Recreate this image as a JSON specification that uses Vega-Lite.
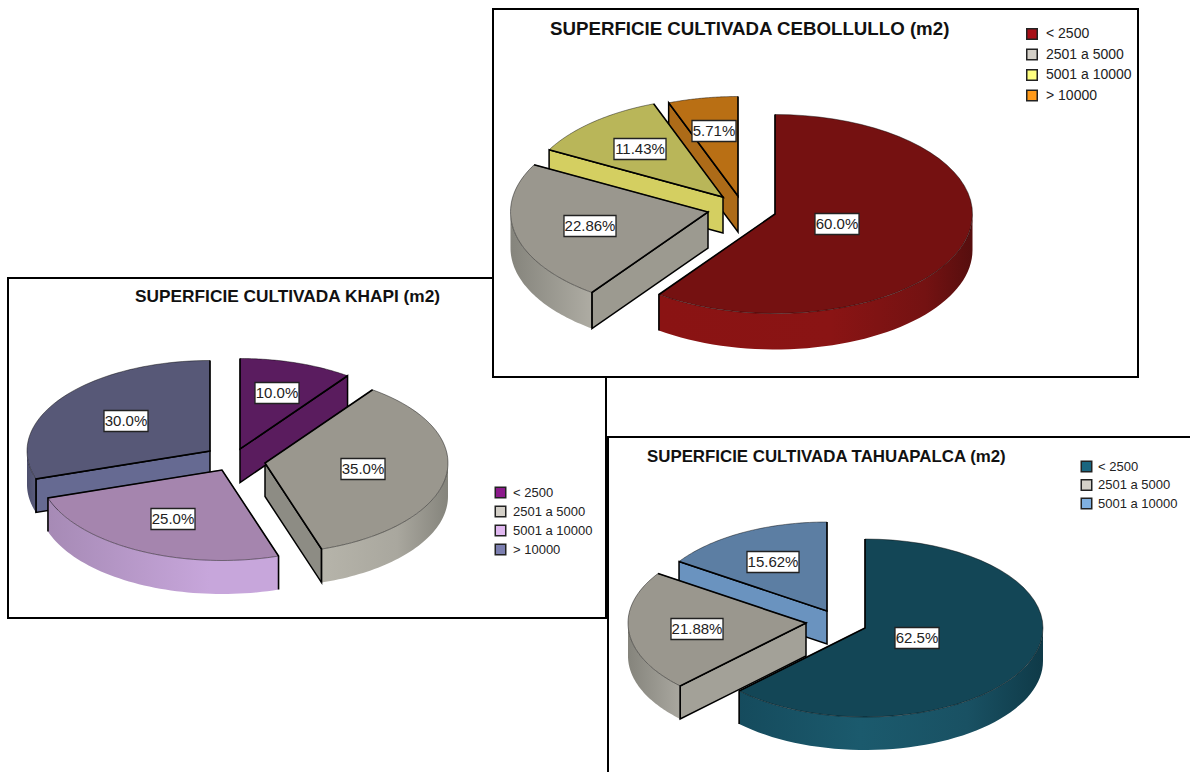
{
"$schema":"https://vega.github.io/schema/vega-lite/v6.json",
"width":1190,"height":772,"padding":0,"autosize":{"type":"none"},
"background":"white",
"config":{"view":{"stroke":null},"font":"Liberation Sans","legend":{"orient":"none","title":null,"padding":0,"symbolType":"square","symbolSize":110,"symbolStrokeColor":"#222","symbolStrokeWidth":1.5,"symbolOpacity":1,"labelFont":"Liberation Sans","labelFontSize":13,"labelColor":"#222","labelOffset":6}},
"datasets":{"slices":[
{"chart":"Khapi","category":"> 10000","pct":30.0,"label":"30.0%"},
{"chart":"Khapi","category":"5001 a 10000","pct":25.0,"label":"25.0%"},
{"chart":"Khapi","category":"2501 a 5000","pct":35.0,"label":"35.0%"},
{"chart":"Khapi","category":"< 2500","pct":10.0,"label":"10.0%"},
{"chart":"Cebollullo","category":"> 10000","pct":5.71,"label":"5.71%"},
{"chart":"Cebollullo","category":"5001 a 10000","pct":11.43,"label":"11.43%"},
{"chart":"Cebollullo","category":"2501 a 5000","pct":22.86,"label":"22.86%"},
{"chart":"Cebollullo","category":"< 2500","pct":60.0,"label":"60.0%"},
{"chart":"Tahuapalca","category":"5001 a 10000","pct":15.62,"label":"15.62%"},
{"chart":"Tahuapalca","category":"2501 a 5000","pct":21.88,"label":"21.88%"},
{"chart":"Tahuapalca","category":"< 2500","pct":62.5,"label":"62.5%"}
]},
"data":{"values":[{}]},
"resolve":{"scale":{"fill":"independent"},"legend":{"fill":"independent"}},
"layer":[
{"mark":{"type":"rect","x":8,"y":278,"x2":606,"y2":618,"fill":"white","stroke":"#000","strokeWidth":2},"encoding":{}},
{"mark":{"type":"text","x":135,"y":297,"align":"left","baseline":"middle","text":"SUPERFICIE CULTIVADA KHAPI (m2)","font":"Liberation Sans","fontWeight":"bold","fontSize":17.3,"fill":"#111"},"encoding":{}},
{"data":{"name":"slices"},
 "transform":[{"filter":"datum.chart==='Khapi'"},
  {"window":[{"op":"sum","field":"pct","as":"cum"}],"ignorePeers":true},
  {"calculate":"100-datum.cum","as":"a0"},{"calculate":"datum.a0+datum.pct","as":"a1"},
  {"calculate":"{'< 2500':240,'2501 a 5000':265,'5001 a 10000':222,'> 10000':210}[datum.category]","as":"ax"},
  {"calculate":"{'< 2500':449,'2501 a 5000':463,'5001 a 10000':470,'> 10000':451}[datum.category]","as":"ay"},
  {"calculate":"{'< 2500':277,'2501 a 5000':363,'5001 a 10000':173,'> 10000':126}[datum.category]","as":"lx"},
  {"calculate":"{'< 2500':393,'2501 a 5000':469,'5001 a 10000':519,'> 10000':421}[datum.category]","as":"ly"},
  {"calculate":"183","as":"rx"},{"calculate":"90.5","as":"ry"},{"calculate":"33.5","as":"depth"},
  {"calculate":"max(datum.a0,25)","as":"b0"},{"calculate":"min(datum.a1,75)","as":"b1"}],
 "encoding":{"x":{"field":"x","type":"quantitative","axis":null,"scale":{"domain":[0,1190],"nice":false,"zero":false}},"y":{"field":"y","type":"quantitative","axis":null,"scale":{"domain":[772,0],"nice":false,"zero":false}}},
 "resolve":{"scale":{"fill":"independent"},"legend":{"fill":"independent"}},
 "layer":[
 {"transform":[{"calculate":"['s','e']","as":"part"},{"flatten":["part"]},
   {"filter":"(datum.part==='s'&&sin(datum.a0*PI/50)<-0.000001)||(datum.part==='e'&&sin(datum.a1*PI/50)>0.000001)"},
   {"calculate":"[0,1,2,3]","as":"s"},{"flatten":["s"]},
   {"calculate":"(datum.part==='s'?datum.a0:datum.a1)*PI/50","as":"th"},
   {"calculate":"(datum.s===0||datum.s===3)?datum.ax:datum.ax+datum.rx*sin(datum.th)","as":"x"},
   {"calculate":"((datum.s===0||datum.s===3)?datum.ay:datum.ay-datum.ry*cos(datum.th))+(datum.s>=2?datum.depth:0)","as":"y"},
   {"calculate":"datum.category+datum.part","as":"key"}],
  "mark":{"type":"line","interpolate":"linear-closed","stroke":"#000","strokeWidth":1.5},
  "encoding":{"order":{"field":"s","type":"quantitative"},"detail":{"field":"key"},"fill":{"field":"category","type":"nominal","legend":null,"scale":{"domain":["< 2500","2501 a 5000","5001 a 10000","> 10000"],"range":["#5a1c5e","#8d8c84","#a98cb9","#666a92"]}}}},
 {"transform":[{"filter":"datum.category==='> 10000'"},
   {"calculate":"sequence(0,2.0201,0.02)","as":"s"},{"flatten":["s"]},
   {"calculate":"(datum.b0+(datum.b1-datum.b0)*(datum.s<1.01?min(datum.s,1):max(2.02-datum.s,0)))*PI/50","as":"th"},
   {"calculate":"datum.ax+datum.rx*sin(datum.th)","as":"x"},
   {"calculate":"datum.ay-datum.ry*cos(datum.th)+(datum.s>=1.01?datum.depth:0)","as":"y"}],
  "mark":{"type":"line","interpolate":"linear-closed","stroke":"transparent","strokeWidth":0,"fill":{"gradient":"linear","x1":0,"y1":0,"x2":1,"y2":0,"stops":[{"offset":0,"color":"#4d4f6d"},{"offset":1,"color":"#5a5c7c"}]}},
  "encoding":{"order":{"field":"s","type":"quantitative"}}},
 {"transform":[{"filter":"datum.category==='5001 a 10000'"},
   {"calculate":"sequence(0,2.0201,0.02)","as":"s"},{"flatten":["s"]},
   {"calculate":"(datum.b0+(datum.b1-datum.b0)*(datum.s<1.01?min(datum.s,1):max(2.02-datum.s,0)))*PI/50","as":"th"},
   {"calculate":"datum.ax+datum.rx*sin(datum.th)","as":"x"},
   {"calculate":"datum.ay-datum.ry*cos(datum.th)+(datum.s>=1.01?datum.depth:0)","as":"y"}],
  "mark":{"type":"line","interpolate":"linear-closed","stroke":"transparent","strokeWidth":0,"fill":{"gradient":"linear","x1":0,"y1":0,"x2":1,"y2":0,"stops":[{"offset":0,"color":"#a68ab5"},{"offset":0.7,"color":"#c7a6db"},{"offset":1,"color":"#c7a6db"}]}},
  "encoding":{"order":{"field":"s","type":"quantitative"}}},
 {"transform":[{"filter":"datum.category==='2501 a 5000'"},
   {"calculate":"sequence(0,2.0201,0.02)","as":"s"},{"flatten":["s"]},
   {"calculate":"(datum.b0+(datum.b1-datum.b0)*(datum.s<1.01?min(datum.s,1):max(2.02-datum.s,0)))*PI/50","as":"th"},
   {"calculate":"datum.ax+datum.rx*sin(datum.th)","as":"x"},
   {"calculate":"datum.ay-datum.ry*cos(datum.th)+(datum.s>=1.01?datum.depth:0)","as":"y"}],
  "mark":{"type":"line","interpolate":"linear-closed","stroke":"transparent","strokeWidth":0,"fill":{"gradient":"linear","x1":0,"y1":0,"x2":1,"y2":0,"stops":[{"offset":0,"color":"#b6b4aa"},{"offset":0.6,"color":"#a9a79e"},{"offset":1,"color":"#85847c"}]}},
  "encoding":{"order":{"field":"s","type":"quantitative"}}},
 {"transform":[{"calculate":"sequence(-0.02,1.0001,0.02)","as":"s"},{"flatten":["s"]},
   {"calculate":"(datum.a0+datum.pct*datum.s)*PI/50","as":"th"},
   {"calculate":"datum.s<-0.01?datum.ax:datum.ax+datum.rx*sin(datum.th)","as":"x"},
   {"calculate":"datum.s<-0.01?datum.ay:datum.ay-datum.ry*cos(datum.th)","as":"y"}],
  "mark":{"type":"line","interpolate":"linear-closed","stroke":"#000","strokeWidth":0.8,"strokeOpacity":0.55},
  "encoding":{"order":{"field":"s","type":"quantitative"},"fill":{"field":"category","type":"nominal","legend":null,"scale":{"domain":["< 2500","2501 a 5000","5001 a 10000","> 10000"],"range":["#5a1c5f","#9a978e","#a585ae","#575877"]}}}},
 {"transform":[{"calculate":"[-1,0,1,2,3]","as":"s"},{"flatten":["s"]},
   {"filter":"(datum.s>=0&&datum.s<=2)||(datum.s===-1&&datum.a0>=25&&datum.a0<=75)||(datum.s===3&&datum.a1>=25&&datum.a1<=75)"},
   {"calculate":"(datum.s<=0?datum.a0:datum.a1)*PI/50","as":"th"},
   {"calculate":"datum.s===1?datum.ax:datum.ax+datum.rx*sin(datum.th)","as":"x"},
   {"calculate":"(datum.s===1?datum.ay:datum.ay-datum.ry*cos(datum.th))+((datum.s===-1||datum.s===3)?datum.depth:0)","as":"y"}],
  "mark":{"type":"line","stroke":"#000","strokeWidth":1.6},
  "encoding":{"order":{"field":"s","type":"quantitative"},"detail":{"field":"category"}}},
 {"mark":{"type":"point","filled":true,"size":0},
  "encoding":{"x":{"field":"ax","type":"quantitative","axis":null,"scale":{"domain":[0,1190],"nice":false,"zero":false}},"y":{"field":"ay","type":"quantitative","axis":null,"scale":{"domain":[772,0],"nice":false,"zero":false}},
   "fill":{"field":"category","type":"nominal","scale":{"domain":["< 2500","2501 a 5000","5001 a 10000","> 10000"],"range":["#8b1a8b","#d4d0c8","#e0b8f0","#7c7fb0"]},"legend":{"legendX":494,"legendY":486,"rowPadding":2}}}},
 {"transform":[{"calculate":"datum.lx-length(datum.label)*4-2","as":"bx0"},{"calculate":"datum.lx+length(datum.label)*4+2","as":"bx1"},{"calculate":"datum.ly-10.5","as":"by0"},{"calculate":"datum.ly+10.5","as":"by1"}],
  "mark":{"type":"rect","fill":"white","stroke":"#222","strokeWidth":1.3},
  "encoding":{"x":{"field":"bx0","type":"quantitative","axis":null,"scale":{"domain":[0,1190],"nice":false,"zero":false}},"x2":{"field":"bx1"},"y":{"field":"by0","type":"quantitative","axis":null,"scale":{"domain":[772,0],"nice":false,"zero":false}},"y2":{"field":"by1"}}},
 {"mark":{"type":"text","font":"Liberation Sans","fontSize":15,"fill":"#222","align":"center","baseline":"middle"},
  "encoding":{"x":{"field":"lx","type":"quantitative","axis":null,"scale":{"domain":[0,1190],"nice":false,"zero":false}},"y":{"field":"ly","type":"quantitative","axis":null,"scale":{"domain":[772,0],"nice":false,"zero":false}},"text":{"field":"label"}}}
 ]},
{"mark":{"type":"rect","x":493,"y":9,"x2":1138,"y2":377,"fill":"white","stroke":"#000","strokeWidth":2},"encoding":{}},
{"mark":{"type":"text","x":550,"y":29,"align":"left","baseline":"middle","text":"SUPERFICIE CULTIVADA CEBOLLULLO (m2)","font":"Liberation Sans","fontWeight":"bold","fontSize":18.7,"fill":"#111"},"encoding":{}},
{"data":{"name":"slices"},
 "transform":[{"filter":"datum.chart==='Cebollullo'"},
  {"window":[{"op":"sum","field":"pct","as":"cum"}],"ignorePeers":true},
  {"calculate":"100-datum.cum","as":"a0"},{"calculate":"datum.a0+datum.pct","as":"a1"},
  {"calculate":"{'< 2500':775,'2501 a 5000':708,'5001 a 10000':723,'> 10000':738}[datum.category]","as":"ax"},
  {"calculate":"{'< 2500':214,'2501 a 5000':212,'5001 a 10000':197,'> 10000':196}[datum.category]","as":"ay"},
  {"calculate":"{'< 2500':837,'2501 a 5000':590,'5001 a 10000':640,'> 10000':714}[datum.category]","as":"lx"},
  {"calculate":"{'< 2500':224,'2501 a 5000':226,'5001 a 10000':149,'> 10000':131}[datum.category]","as":"ly"},
  {"calculate":"197.5","as":"rx"},{"calculate":"99.5","as":"ry"},{"calculate":"36","as":"depth"},
  {"calculate":"max(datum.a0,25)","as":"b0"},{"calculate":"min(datum.a1,75)","as":"b1"}],
 "encoding":{"x":{"field":"x","type":"quantitative","axis":null,"scale":{"domain":[0,1190],"nice":false,"zero":false}},"y":{"field":"y","type":"quantitative","axis":null,"scale":{"domain":[772,0],"nice":false,"zero":false}}},
 "resolve":{"scale":{"fill":"independent"},"legend":{"fill":"independent"}},
 "layer":[
 {"transform":[{"calculate":"['s','e']","as":"part"},{"flatten":["part"]},
   {"filter":"(datum.part==='s'&&sin(datum.a0*PI/50)<-0.000001)||(datum.part==='e'&&sin(datum.a1*PI/50)>0.000001)"},
   {"calculate":"[0,1,2,3]","as":"s"},{"flatten":["s"]},
   {"calculate":"(datum.part==='s'?datum.a0:datum.a1)*PI/50","as":"th"},
   {"calculate":"(datum.s===0||datum.s===3)?datum.ax:datum.ax+datum.rx*sin(datum.th)","as":"x"},
   {"calculate":"((datum.s===0||datum.s===3)?datum.ay:datum.ay-datum.ry*cos(datum.th))+(datum.s>=2?datum.depth:0)","as":"y"},
   {"calculate":"datum.category+datum.part","as":"key"}],
  "mark":{"type":"line","interpolate":"linear-closed","stroke":"#000","strokeWidth":1.5},
  "encoding":{"order":{"field":"s","type":"quantitative"},"detail":{"field":"key"},"fill":{"field":"category","type":"nominal","legend":null,"scale":{"domain":["< 2500","2501 a 5000","5001 a 10000","> 10000"],"range":["#851313","#9c9a90","#d4cf61","#ad6b18"]}}}},
 {"transform":[{"filter":"datum.category==='2501 a 5000'"},
   {"calculate":"sequence(0,2.0201,0.02)","as":"s"},{"flatten":["s"]},
   {"calculate":"(datum.b0+(datum.b1-datum.b0)*(datum.s<1.01?min(datum.s,1):max(2.02-datum.s,0)))*PI/50","as":"th"},
   {"calculate":"datum.ax+datum.rx*sin(datum.th)","as":"x"},
   {"calculate":"datum.ay-datum.ry*cos(datum.th)+(datum.s>=1.01?datum.depth:0)","as":"y"}],
  "mark":{"type":"line","interpolate":"linear-closed","stroke":"transparent","strokeWidth":0,"fill":{"gradient":"linear","x1":0,"y1":0,"x2":1,"y2":0,"stops":[{"offset":0,"color":"#85847c"},{"offset":1,"color":"#aeaca3"}]}},
  "encoding":{"order":{"field":"s","type":"quantitative"}}},
 {"transform":[{"filter":"datum.category==='< 2500'"},
   {"calculate":"sequence(0,2.0201,0.02)","as":"s"},{"flatten":["s"]},
   {"calculate":"(datum.b0+(datum.b1-datum.b0)*(datum.s<1.01?min(datum.s,1):max(2.02-datum.s,0)))*PI/50","as":"th"},
   {"calculate":"datum.ax+datum.rx*sin(datum.th)","as":"x"},
   {"calculate":"datum.ay-datum.ry*cos(datum.th)+(datum.s>=1.01?datum.depth:0)","as":"y"}],
  "mark":{"type":"line","interpolate":"linear-closed","stroke":"transparent","strokeWidth":0,"fill":{"gradient":"linear","x1":0,"y1":0,"x2":1,"y2":0,"stops":[{"offset":0,"color":"#8a1313"},{"offset":0.55,"color":"#8a1414"},{"offset":0.85,"color":"#741212"},{"offset":1,"color":"#560e0e"}]}},
  "encoding":{"order":{"field":"s","type":"quantitative"}}},
 {"transform":[{"calculate":"sequence(-0.02,1.0001,0.02)","as":"s"},{"flatten":["s"]},
   {"calculate":"(datum.a0+datum.pct*datum.s)*PI/50","as":"th"},
   {"calculate":"datum.s<-0.01?datum.ax:datum.ax+datum.rx*sin(datum.th)","as":"x"},
   {"calculate":"datum.s<-0.01?datum.ay:datum.ay-datum.ry*cos(datum.th)","as":"y"}],
  "mark":{"type":"line","interpolate":"linear-closed","stroke":"#000","strokeWidth":0.8,"strokeOpacity":0.55},
  "encoding":{"order":{"field":"s","type":"quantitative"},"fill":{"field":"category","type":"nominal","legend":null,"scale":{"domain":["< 2500","2501 a 5000","5001 a 10000","> 10000"],"range":["#751111","#9a978e","#b9b659","#b96f14"]}}}},
 {"transform":[{"calculate":"[-1,0,1,2,3]","as":"s"},{"flatten":["s"]},
   {"filter":"(datum.s>=0&&datum.s<=2)||(datum.s===-1&&datum.a0>=25&&datum.a0<=75)||(datum.s===3&&datum.a1>=25&&datum.a1<=75)"},
   {"calculate":"(datum.s<=0?datum.a0:datum.a1)*PI/50","as":"th"},
   {"calculate":"datum.s===1?datum.ax:datum.ax+datum.rx*sin(datum.th)","as":"x"},
   {"calculate":"(datum.s===1?datum.ay:datum.ay-datum.ry*cos(datum.th))+((datum.s===-1||datum.s===3)?datum.depth:0)","as":"y"}],
  "mark":{"type":"line","stroke":"#000","strokeWidth":1.6},
  "encoding":{"order":{"field":"s","type":"quantitative"},"detail":{"field":"category"}}},
 {"mark":{"type":"point","filled":true,"size":0},
  "encoding":{"x":{"field":"ax","type":"quantitative","axis":null,"scale":{"domain":[0,1190],"nice":false,"zero":false}},"y":{"field":"ay","type":"quantitative","axis":null,"scale":{"domain":[772,0],"nice":false,"zero":false}},
   "fill":{"field":"category","type":"nominal","scale":{"domain":["< 2500","2501 a 5000","5001 a 10000","> 10000"],"range":["#a80f17","#d4d0c8","#ffff80","#ff9a1a"]},"legend":{"legendX":1025,"legendY":27,"rowPadding":2.5,"labelFontSize":14,"labelOffset":7}}}},
 {"transform":[{"calculate":"datum.lx-length(datum.label)*4-2","as":"bx0"},{"calculate":"datum.lx+length(datum.label)*4+2","as":"bx1"},{"calculate":"datum.ly-10.5","as":"by0"},{"calculate":"datum.ly+10.5","as":"by1"}],
  "mark":{"type":"rect","fill":"white","stroke":"#222","strokeWidth":1.3},
  "encoding":{"x":{"field":"bx0","type":"quantitative","axis":null,"scale":{"domain":[0,1190],"nice":false,"zero":false}},"x2":{"field":"bx1"},"y":{"field":"by0","type":"quantitative","axis":null,"scale":{"domain":[772,0],"nice":false,"zero":false}},"y2":{"field":"by1"}}},
 {"mark":{"type":"text","font":"Liberation Sans","fontSize":15,"fill":"#222","align":"center","baseline":"middle"},
  "encoding":{"x":{"field":"lx","type":"quantitative","axis":null,"scale":{"domain":[0,1190],"nice":false,"zero":false}},"y":{"field":"ly","type":"quantitative","axis":null,"scale":{"domain":[772,0],"nice":false,"zero":false}},"text":{"field":"label"}}}
 ]},
{"mark":{"type":"rect","x":608,"y":437,"x2":1196,"y2":780,"fill":"white","stroke":"#000","strokeWidth":2},"encoding":{}},
{"mark":{"type":"text","x":647,"y":457,"align":"left","baseline":"middle","text":"SUPERFICIE CULTIVADA TAHUAPALCA (m2)","font":"Liberation Sans","fontWeight":"bold","fontSize":16.85,"fill":"#111"},"encoding":{}},
{"data":{"name":"slices"},
 "transform":[{"filter":"datum.chart==='Tahuapalca'"},
  {"window":[{"op":"sum","field":"pct","as":"cum"}],"ignorePeers":true},
  {"calculate":"100-datum.cum","as":"a0"},{"calculate":"datum.a0+datum.pct","as":"a1"},
  {"calculate":"{'< 2500':865,'2501 a 5000':806,'5001 a 10000':827}[datum.category]","as":"ax"},
  {"calculate":"{'< 2500':628,'2501 a 5000':623,'5001 a 10000':611}[datum.category]","as":"ay"},
  {"calculate":"{'< 2500':917,'2501 a 5000':697,'5001 a 10000':773}[datum.category]","as":"lx"},
  {"calculate":"{'< 2500':638,'2501 a 5000':629,'5001 a 10000':562}[datum.category]","as":"ly"},
  {"calculate":"178","as":"rx"},{"calculate":"89","as":"ry"},{"calculate":"33","as":"depth"},
  {"calculate":"max(datum.a0,25)","as":"b0"},{"calculate":"min(datum.a1,75)","as":"b1"}],
 "encoding":{"x":{"field":"x","type":"quantitative","axis":null,"scale":{"domain":[0,1190],"nice":false,"zero":false}},"y":{"field":"y","type":"quantitative","axis":null,"scale":{"domain":[772,0],"nice":false,"zero":false}}},
 "resolve":{"scale":{"fill":"independent"},"legend":{"fill":"independent"}},
 "layer":[
 {"transform":[{"calculate":"['s','e']","as":"part"},{"flatten":["part"]},
   {"filter":"(datum.part==='s'&&sin(datum.a0*PI/50)<-0.000001)||(datum.part==='e'&&sin(datum.a1*PI/50)>0.000001)"},
   {"calculate":"[0,1,2,3]","as":"s"},{"flatten":["s"]},
   {"calculate":"(datum.part==='s'?datum.a0:datum.a1)*PI/50","as":"th"},
   {"calculate":"(datum.s===0||datum.s===3)?datum.ax:datum.ax+datum.rx*sin(datum.th)","as":"x"},
   {"calculate":"((datum.s===0||datum.s===3)?datum.ay:datum.ay-datum.ry*cos(datum.th))+(datum.s>=2?datum.depth:0)","as":"y"},
   {"calculate":"datum.category+datum.part","as":"key"}],
  "mark":{"type":"line","interpolate":"linear-closed","stroke":"#000","strokeWidth":1.5},
  "encoding":{"order":{"field":"s","type":"quantitative"},"detail":{"field":"key"},"fill":{"field":"category","type":"nominal","legend":null,"scale":{"domain":["< 2500","2501 a 5000","5001 a 10000"],"range":["#174e60","#a3a198","#6a93bf"]}}}},
 {"transform":[{"filter":"datum.category==='2501 a 5000'"},
   {"calculate":"sequence(0,2.0201,0.02)","as":"s"},{"flatten":["s"]},
   {"calculate":"(datum.b0+(datum.b1-datum.b0)*(datum.s<1.01?min(datum.s,1):max(2.02-datum.s,0)))*PI/50","as":"th"},
   {"calculate":"datum.ax+datum.rx*sin(datum.th)","as":"x"},
   {"calculate":"datum.ay-datum.ry*cos(datum.th)+(datum.s>=1.01?datum.depth:0)","as":"y"}],
  "mark":{"type":"line","interpolate":"linear-closed","stroke":"transparent","strokeWidth":0,"fill":{"gradient":"linear","x1":0,"y1":0,"x2":1,"y2":0,"stops":[{"offset":0,"color":"#85847c"},{"offset":1,"color":"#a9a79f"}]}},
  "encoding":{"order":{"field":"s","type":"quantitative"}}},
 {"transform":[{"filter":"datum.category==='< 2500'"},
   {"calculate":"sequence(0,2.0201,0.02)","as":"s"},{"flatten":["s"]},
   {"calculate":"(datum.b0+(datum.b1-datum.b0)*(datum.s<1.01?min(datum.s,1):max(2.02-datum.s,0)))*PI/50","as":"th"},
   {"calculate":"datum.ax+datum.rx*sin(datum.th)","as":"x"},
   {"calculate":"datum.ay-datum.ry*cos(datum.th)+(datum.s>=1.01?datum.depth:0)","as":"y"}],
  "mark":{"type":"line","interpolate":"linear-closed","stroke":"transparent","strokeWidth":0,"fill":{"gradient":"linear","x1":0,"y1":0,"x2":1,"y2":0,"stops":[{"offset":0,"color":"#154b5d"},{"offset":0.4,"color":"#1b5a6d"},{"offset":0.75,"color":"#195163"},{"offset":1,"color":"#0f3a48"}]}},
  "encoding":{"order":{"field":"s","type":"quantitative"}}},
 {"transform":[{"calculate":"sequence(-0.02,1.0001,0.02)","as":"s"},{"flatten":["s"]},
   {"calculate":"(datum.a0+datum.pct*datum.s)*PI/50","as":"th"},
   {"calculate":"datum.s<-0.01?datum.ax:datum.ax+datum.rx*sin(datum.th)","as":"x"},
   {"calculate":"datum.s<-0.01?datum.ay:datum.ay-datum.ry*cos(datum.th)","as":"y"}],
  "mark":{"type":"line","interpolate":"linear-closed","stroke":"#000","strokeWidth":0.8,"strokeOpacity":0.55},
  "encoding":{"order":{"field":"s","type":"quantitative"},"fill":{"field":"category","type":"nominal","legend":null,"scale":{"domain":["< 2500","2501 a 5000","5001 a 10000"],"range":["#134656","#9a978e","#5c7ea3"]}}}},
 {"transform":[{"calculate":"[-1,0,1,2,3]","as":"s"},{"flatten":["s"]},
   {"filter":"(datum.s>=0&&datum.s<=2)||(datum.s===-1&&datum.a0>=25&&datum.a0<=75)||(datum.s===3&&datum.a1>=25&&datum.a1<=75)"},
   {"calculate":"(datum.s<=0?datum.a0:datum.a1)*PI/50","as":"th"},
   {"calculate":"datum.s===1?datum.ax:datum.ax+datum.rx*sin(datum.th)","as":"x"},
   {"calculate":"(datum.s===1?datum.ay:datum.ay-datum.ry*cos(datum.th))+((datum.s===-1||datum.s===3)?datum.depth:0)","as":"y"}],
  "mark":{"type":"line","stroke":"#000","strokeWidth":1.6},
  "encoding":{"order":{"field":"s","type":"quantitative"},"detail":{"field":"category"}}},
 {"mark":{"type":"point","filled":true,"size":0},
  "encoding":{"x":{"field":"ax","type":"quantitative","axis":null,"scale":{"domain":[0,1190],"nice":false,"zero":false}},"y":{"field":"ay","type":"quantitative","axis":null,"scale":{"domain":[772,0],"nice":false,"zero":false}},
   "fill":{"field":"category","type":"nominal","scale":{"domain":["< 2500","2501 a 5000","5001 a 10000"],"range":["#1a6680","#d4d0c8","#80b0e0"]},"legend":{"legendX":1080,"legendY":460,"rowPadding":1.5,"labelOffset":5}}}},
 {"transform":[{"calculate":"datum.lx-length(datum.label)*4-2","as":"bx0"},{"calculate":"datum.lx+length(datum.label)*4+2","as":"bx1"},{"calculate":"datum.ly-10.5","as":"by0"},{"calculate":"datum.ly+10.5","as":"by1"}],
  "mark":{"type":"rect","fill":"white","stroke":"#222","strokeWidth":1.3},
  "encoding":{"x":{"field":"bx0","type":"quantitative","axis":null,"scale":{"domain":[0,1190],"nice":false,"zero":false}},"x2":{"field":"bx1"},"y":{"field":"by0","type":"quantitative","axis":null,"scale":{"domain":[772,0],"nice":false,"zero":false}},"y2":{"field":"by1"}}},
 {"mark":{"type":"text","font":"Liberation Sans","fontSize":15,"fill":"#222","align":"center","baseline":"middle"},
  "encoding":{"x":{"field":"lx","type":"quantitative","axis":null,"scale":{"domain":[0,1190],"nice":false,"zero":false}},"y":{"field":"ly","type":"quantitative","axis":null,"scale":{"domain":[772,0],"nice":false,"zero":false}},"text":{"field":"label"}}}
 ]}
]}
